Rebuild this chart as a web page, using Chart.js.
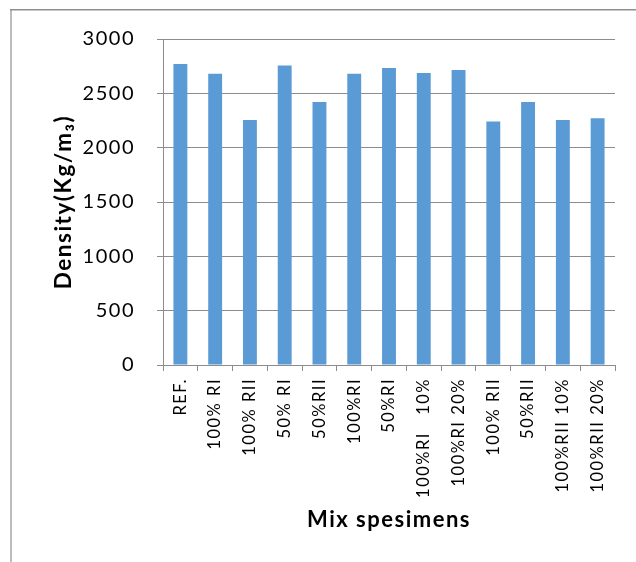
<!DOCTYPE html>
<html>
<head>
<meta charset="utf-8">
<script src="https://cdn.jsdelivr.net/npm/chart.js@4/dist/chart.umd.min.js"></script>
<style>
  html, body { margin: 0; padding: 0; background: #ffffff; }
  #wrap { position: relative; width: 636px; height: 562px; }
  canvas { display: block; }
</style>
</head>
<body>
<div id="wrap"><canvas id="chart" width="636" height="562"></canvas></div>
<script>
// Mix specimens and their measured densities (kg/m3)
const categories = [
  'REF.', '100% RI', '100% RII', '50% RI', '50%RII', '100%RI', '50%RI',
  '100%RI   10%', '100%RI 20%', '100% RII', '50%RII', '100%RII 10%', '100%RII 20%'
];
const densityValues = [2770, 2680, 2255, 2755, 2420, 2680, 2733, 2687, 2715, 2240, 2420, 2255, 2270];
const yTickValues = [0, 500, 1000, 1500, 2000, 2500, 3000];

const BAR_BLUE = '#5b9bd5';
const GRID_GREY = '#8c8c8c';
const TEXT_SPACING = '1.5px';

// Wider letter spacing for all chart text (set before layout and before drawing,
// since resizing the canvas resets the context state)
const spacingPlugin = {
  id: 'spacing',
  beforeUpdate(chart) { chart.ctx.letterSpacing = TEXT_SPACING; },
  beforeLayout(chart) { chart.ctx.letterSpacing = TEXT_SPACING; },
  beforeDraw(chart) { chart.ctx.letterSpacing = TEXT_SPACING; }
};

// Frame around the chart: darker top edge, lighter left edge
const framePlugin = {
  id: 'frame',
  beforeDraw(chart) {
    const ctx = chart.ctx;
    ctx.save();
    ctx.fillStyle = '#ffffff';
    ctx.fillRect(0, 0, chart.width, chart.height);
    ctx.fillStyle = '#bdbdbd';
    ctx.fillRect(10, 10, 2, chart.height - 10);
    ctx.fillStyle = '#8e8e8e';
    ctx.fillRect(10, 9, chart.width - 10, 1.5);
    ctx.restore();
  }
};

new Chart(document.getElementById('chart'), {
  type: 'bar',
  data: {
    labels: categories,
    datasets: [{
      data: densityValues,
      backgroundColor: BAR_BLUE,
      borderWidth: 0,
      categoryPercentage: 1.0,
      barPercentage: 0.4
    }]
  },
  options: {
    responsive: false,
    animation: false,
    devicePixelRatio: 1,
    layout: { padding: { top: 39, right: 21, bottom: 0, left: 0 } },
    plugins: {
      legend: { display: false },
      tooltip: { enabled: false }
    },
    scales: {
      x: {
        grid: {
          display: true,
          drawOnChartArea: false,
          drawTicks: true,
          tickLength: 6,
          color: GRID_GREY,
          offset: true
        },
        border: { display: true, color: GRID_GREY, width: 1 },
        ticks: {
          autoSkip: false,
          maxRotation: 90,
          minRotation: 90,
          padding: 7,
          color: '#000000',
          font: { family: 'Lato', size: 16.5 }
        },
        title: {
          display: true,
          text: 'Mix spesimens',
          color: '#000000',
          font: { family: 'Lato', size: 22, weight: 'bold', lineHeight: 1 },
          padding: { top: 0, bottom: 31 }
        },
        afterFit(scale) { scale.height = 197; }
      },
      y: {
        min: 0,
        max: 3000,
        afterBuildTicks(scale) { scale.ticks = yTickValues.map(v => ({ value: v })); },
        grid: {
          display: true,
          drawOnChartArea: true,
          drawTicks: true,
          tickLength: 6,
          color: GRID_GREY,
          lineWidth: 1
        },
        border: { display: true, color: GRID_GREY, width: 1 },
        ticks: {
          padding: 22,
          color: '#000000',
          font: { family: 'Lato', size: 20 },
          callback: (value) => String(value)
        },
        title: {
          display: true,
          text: 'Density(Kg/m\u2083)',
          color: '#000000',
          font: { family: 'Lato', size: 22.5, weight: 'bold', lineHeight: 1 },
          padding: { top: 52, bottom: 0 }
        },
        afterFit(scale) { scale.width = 163; }
      }
    }
  },
  plugins: [spacingPlugin, framePlugin]
});
</script>
</body>
</html>
